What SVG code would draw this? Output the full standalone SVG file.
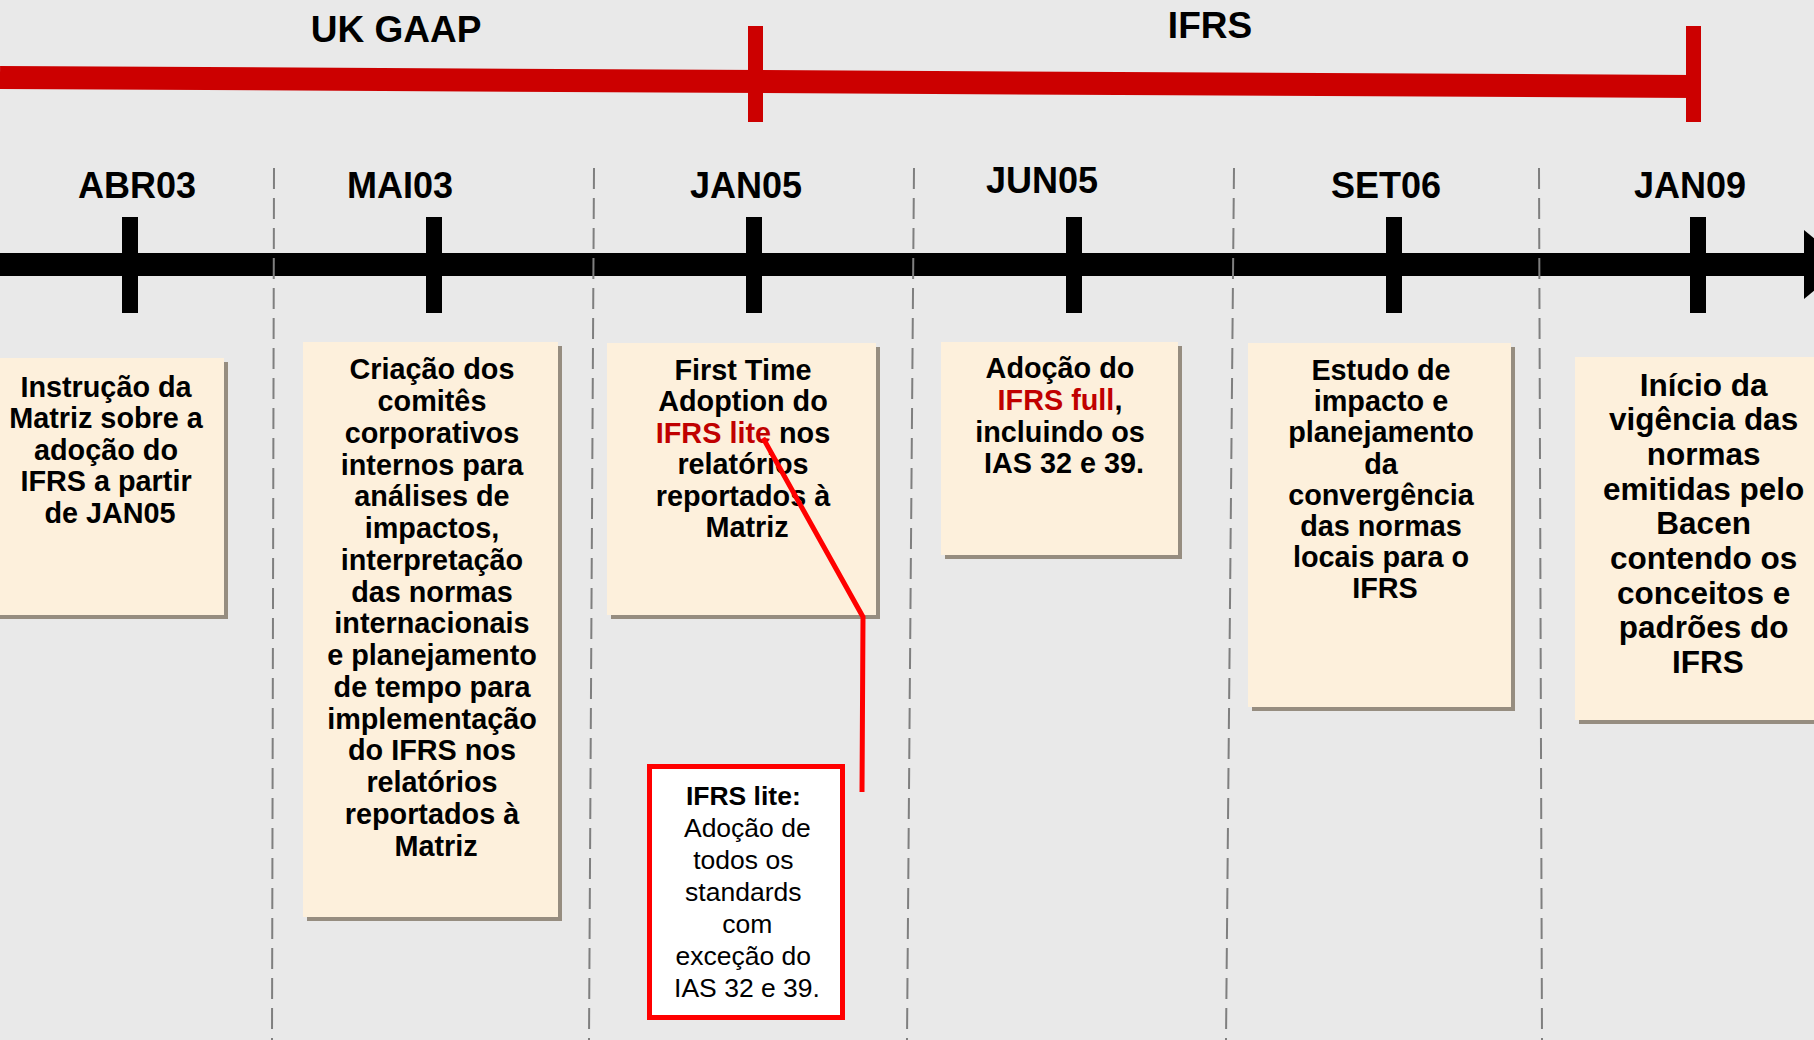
<svg xmlns="http://www.w3.org/2000/svg" width="1814" height="1040" viewBox="0 0 1814 1040">
<defs>
<style>
.bg{fill:#E9E9E9}
.box{fill:#FDF0DC}
.shadow{fill:#968D80}
.t{font-family:"Liberation Sans",Arial,sans-serif;font-weight:bold;font-size:28.8px;fill:#000;text-anchor:middle}
.t6{font-size:31.5px}
.lite{font-family:"Liberation Sans",Arial,sans-serif;font-size:26.5px;fill:#000;text-anchor:middle}
.date{font-family:"Liberation Sans",Arial,sans-serif;font-weight:bold;font-size:36px;fill:#000;text-anchor:middle}
.era{font-family:"Liberation Sans",Arial,sans-serif;font-weight:bold;font-size:37px;fill:#000;text-anchor:middle}
.red{fill:#C00000}
.dash{stroke:#7F7F7F;stroke-width:2;stroke-dasharray:21 9;fill:none}
.tick{fill:#000}
.rtick{fill:#CC0000}
</style>
</defs>
<rect class="bg" x="0" y="0" width="1814" height="1040"/>

<g id="eras">
<line x1="0" y1="77.5" x2="1694" y2="86.5" stroke="#CC0000" stroke-width="23"/>
<rect class="rtick" x="748" y="26" width="15" height="96"/>
<rect class="rtick" x="1686" y="26" width="15" height="96"/>
<text class="era" x="396" y="42">UK GAAP</text>
<text class="era" x="1210" y="38">IFRS</text>
</g>

<g id="timeline">
<rect x="0" y="253" width="1806" height="23" fill="#000"/>
<polygon points="1804,230 1804,299 1846,264.5" fill="#000"/>
<rect class="tick" x="122" y="217" width="16" height="96"/>
<rect class="tick" x="426" y="217" width="16" height="96"/>
<rect class="tick" x="746" y="217" width="16" height="96"/>
<rect class="tick" x="1066" y="217" width="16" height="96"/>
<rect class="tick" x="1386" y="217" width="16" height="96"/>
<rect class="tick" x="1690" y="217" width="16" height="96"/>
</g>

<g id="separators">
<line class="dash" x1="274" y1="168" x2="272" y2="1040"/>
<line class="dash" x1="594" y1="168" x2="589" y2="1040"/>
<line class="dash" x1="914" y1="168" x2="907" y2="1040"/>
<line class="dash" x1="1234" y1="168" x2="1226" y2="1040"/>
<line class="dash" x1="1539" y1="168" x2="1542" y2="1040"/>
</g>

<g id="dates">
<text class="date" x="137" y="198">ABR03</text>
<text class="date" x="400" y="198">MAI03</text>
<text class="date" x="746" y="198">JAN05</text>
<text class="date" x="1042" y="193">JUN05</text>
<text class="date" x="1386" y="198">SET06</text>
<text class="date" x="1690" y="198">JAN09</text>
</g>

<g id="node-abr03">
<rect class="shadow" x="-8" y="362" width="236" height="257"/>
<rect class="box" x="-12" y="358" width="236" height="257"/>
<text class="t">
<tspan x="110" y="396.7">Instrução da</tspan>
<tspan x="110" y="428.2">Matriz sobre a</tspan>
<tspan x="110" y="459.7">adoção do</tspan>
<tspan x="110" y="491.2">IFRS a partir</tspan>
<tspan x="110" y="522.7">de JAN05</tspan>
</text>
</g>

<g id="node-mai03">
<rect class="shadow" x="307" y="346" width="255" height="575"/>
<rect class="box" x="303" y="342" width="255" height="575"/>
<text class="t">
<tspan x="436" y="379.3">Criação dos</tspan>
<tspan x="436" y="411">comitês</tspan>
<tspan x="436" y="442.8">corporativos</tspan>
<tspan x="436" y="474.5">internos para</tspan>
<tspan x="436" y="506.3">análises de</tspan>
<tspan x="436" y="538">impactos,</tspan>
<tspan x="436" y="569.8">interpretação</tspan>
<tspan x="436" y="601.5">das normas</tspan>
<tspan x="436" y="633.3">internacionais</tspan>
<tspan x="436" y="665">e planejamento</tspan>
<tspan x="436" y="696.8">de tempo para</tspan>
<tspan x="436" y="728.5">implementação</tspan>
<tspan x="436" y="760.3">do IFRS nos</tspan>
<tspan x="436" y="792">relatórios</tspan>
<tspan x="436" y="823.8">reportados à</tspan>
<tspan x="436" y="855.5">Matriz</tspan>
</text>
</g>

<g id="node-jan05">
<rect class="shadow" x="611" y="347" width="269" height="272"/>
<rect class="box" x="607" y="343" width="269" height="272"/>
<text class="t">
<tspan x="747" y="380">First Time</tspan>
<tspan x="747" y="411.4">Adoption do</tspan>
<tspan x="747" y="442.8"><tspan class="red">IFRS lite</tspan> nos</tspan>
<tspan x="747" y="474.2">relatórios</tspan>
<tspan x="747" y="505.6">reportados à</tspan>
<tspan x="747" y="537">Matriz</tspan>
</text>
</g>

<g id="node-jun05">
<rect class="shadow" x="945" y="346" width="237" height="213"/>
<rect class="box" x="941" y="342" width="237" height="213"/>
<text class="t">
<tspan x="1064" y="378.3">Adoção do</tspan>
<tspan x="1064" y="410"><tspan class="red">IFRS full</tspan>,</tspan>
<tspan x="1064" y="441.7">incluindo os</tspan>
<tspan x="1064" y="473.4">IAS 32 e 39.</tspan>
</text>
</g>

<g id="node-set06">
<rect class="shadow" x="1252" y="347" width="263" height="364"/>
<rect class="box" x="1248" y="343" width="263" height="364"/>
<text class="t">
<tspan x="1385" y="380">Estudo de</tspan>
<tspan x="1385" y="411.2">impacto e</tspan>
<tspan x="1385" y="442.3">planejamento</tspan>
<tspan x="1385" y="473.5">da</tspan>
<tspan x="1385" y="504.6">convergência</tspan>
<tspan x="1385" y="535.8">das normas</tspan>
<tspan x="1385" y="566.9">locais para o</tspan>
<tspan x="1385" y="598">IFRS</tspan>
</text>
</g>

<g id="node-jan09">
<rect class="shadow" x="1579" y="361" width="260" height="363"/>
<rect class="box" x="1575" y="357" width="260" height="363"/>
<text class="t t6">
<tspan x="1708" y="395.5">Início da</tspan>
<tspan x="1708" y="430.2">vigência das</tspan>
<tspan x="1708" y="464.9">normas</tspan>
<tspan x="1708" y="499.6">emitidas pelo</tspan>
<tspan x="1708" y="534.3">Bacen</tspan>
<tspan x="1708" y="569">contendo os</tspan>
<tspan x="1708" y="603.7">conceitos e</tspan>
<tspan x="1708" y="638.4">padrões do</tspan>
<tspan x="1708" y="673.1">IFRS</tspan>
</text>
</g>

<g id="node-ifrs-lite">
<rect x="649.5" y="766.5" width="193" height="251" fill="#FFFFFF" stroke="#FF0000" stroke-width="5"/>
<text class="lite">
<tspan x="747" y="805" font-weight="bold">IFRS lite:</tspan>
<tspan x="751" y="837">Adoção de</tspan>
<tspan x="747" y="869">todos os</tspan>
<tspan x="747" y="901">standards</tspan>
<tspan x="751" y="933">com</tspan>
<tspan x="747" y="965">exceção do</tspan>
<tspan x="747" y="997">IAS 32 e 39.</tspan>
</text>
</g>

<g id="connectors">
<path d="M763,438 L863,617 L862,792" fill="none" stroke="#FF0000" stroke-width="5" stroke-linejoin="miter"/>
</g>
</svg>
